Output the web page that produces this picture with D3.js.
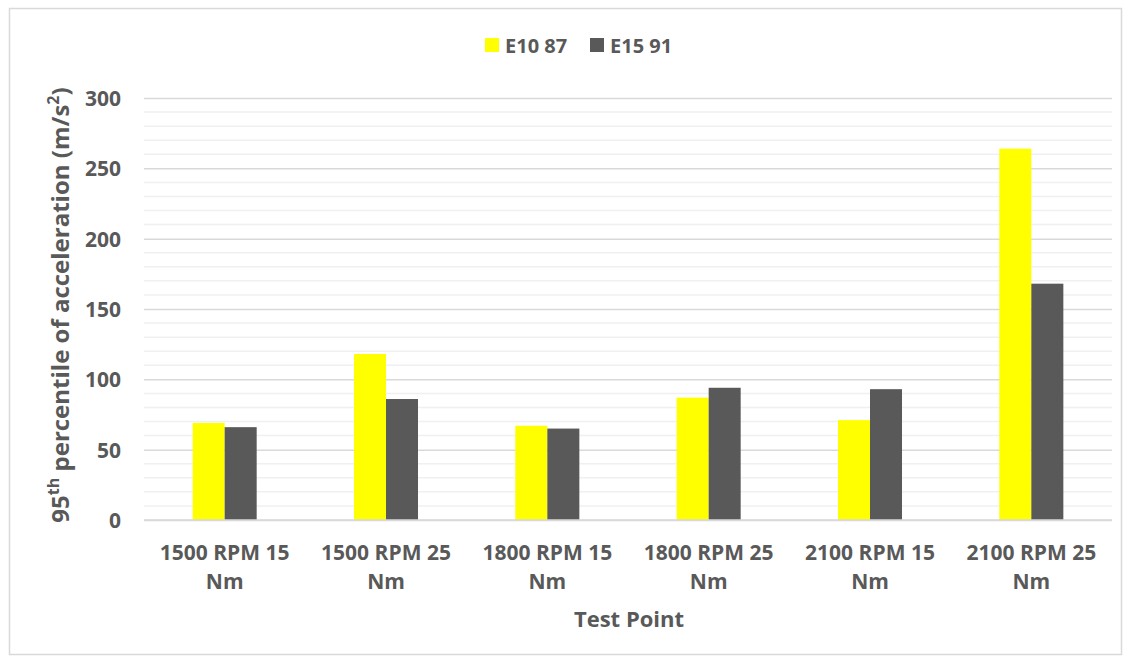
<!DOCTYPE html>
<html>
<head>
<meta charset="utf-8">
<script src="https://cdn.jsdelivr.net/npm/d3@7"></script>
<style>
  html, body { margin: 0; padding: 0; background: #fff; }
  svg { display: block; }
  text { font-family: "Open Sans", Lato, sans-serif; font-weight: bold; fill: #595959; }
</style>
</head>
<body>
<svg id="chart" width="1130" height="662"></svg>
<script>
// Test points (two-line labels) and series values
const categories = [
  ["1500 RPM 15", "Nm"],
  ["1500 RPM 25", "Nm"],
  ["1800 RPM 15", "Nm"],
  ["1800 RPM 25", "Nm"],
  ["2100 RPM 15", "Nm"],
  ["2100 RPM 25", "Nm"]
];
const seriesNames = ["E10 87", "E15 91"];
const e10_87 = [69, 118, 67, 87, 71, 264];
const e15_91 = [66, 86, 65, 94, 93, 168];
const seriesColors = ["#ffff00", "#595959"];
const yTicks = [0, 50, 100, 150, 200, 250, 300];
const yMinorTicks = d3.range(0, 301, 10);

const svg = d3.select("#chart");
const m = { left: 144, right: 1112, top: 98, bottom: 520 };

// outer frame
svg.append("rect")
  .attr("x", 9.5).attr("y", 8.5).attr("width", 1112).attr("height", 646)
  .attr("fill", "#fff").attr("stroke", "#d9d9d9").attr("stroke-width", 1.5);

const x = d3.scaleBand().domain(d3.range(categories.length)).range([m.left, m.right]);
// two bars per group, together ~40% of the category band
const xs = d3.scaleBand().domain([0, 1]).range([0, x.bandwidth()]).paddingInner(0).paddingOuter(1.52);
const y = d3.scaleLinear().domain([0, 300]).range([m.bottom, m.top]);

// minor gridlines
svg.append("g").selectAll("line").data(yMinorTicks.filter(v => v % 50 !== 0)).join("line")
  .attr("x1", m.left).attr("x2", m.right)
  .attr("y1", d => y(d)).attr("y2", d => y(d))
  .attr("stroke", "#f0f0f0").attr("stroke-width", 1.5);

// major gridlines + tick labels via axis
const yAxis = d3.axisLeft(y).tickValues(yTicks).tickSize(-(m.right - m.left)).tickPadding(23);
const gy = svg.append("g").attr("transform", `translate(${m.left},0)`).call(yAxis);
gy.select(".domain").remove();
gy.selectAll(".tick line").attr("stroke", "#d9d9d9").attr("stroke-width", 1.5);
gy.selectAll(".tick text").attr("font-size", 21).attr("fill", "#595959").attr("dy", "0.35em")
  .style("font-family", "'Open Sans', Lato, sans-serif").style("font-weight", "bold");

// bars
const series = [e10_87, e15_91];
series.forEach((vals, si) => {
  svg.append("g").selectAll("rect").data(vals).join("rect")
    .attr("x", (d, i) => x(i) + xs(si))
    .attr("y", d => y(d))
    .attr("width", xs.bandwidth())
    .attr("height", d => y(0) - y(d))
    .attr("fill", seriesColors[si]);
});

// x axis line
svg.append("line").attr("x1", m.left).attr("x2", m.right)
  .attr("y1", y(0)).attr("y2", y(0))
  .attr("stroke", "#d9d9d9").attr("stroke-width", 1.5);

// category labels
const gx = svg.append("g");
categories.forEach((lines, i) => {
  const cx = x(i) + x.bandwidth() / 2;
  const t = gx.append("text")
    .attr("x", cx)
    .attr("y", 560)
    .attr("text-anchor", "middle")
    .attr("font-size", 21);
  lines.forEach((ln, k) => {
    t.append("tspan").attr("x", cx).attr("dy", k === 0 ? 0 : 29).text(ln);
  });
});

// axis titles
svg.append("text").attr("x", (m.left + m.right) / 2 + 1).attr("y", 627)
  .attr("text-anchor", "middle").attr("font-size", 22).text("Test Point");

const yt = svg.append("text")
  .attr("transform", `translate(69,${(m.top + m.bottom) / 2 - 4}) rotate(-90)`)
  .attr("text-anchor", "middle").attr("font-size", 24);
yt.append("tspan").text("95");
yt.append("tspan").attr("dy", -10).attr("font-size", 16).text("th");
yt.append("tspan").attr("dy", 10).text(" percentile of acceleration (m/s");
yt.append("tspan").attr("dy", -10).attr("font-size", 16).text("2");
yt.append("tspan").attr("dy", 10).text(")");

// legend
const legend = svg.append("g");
const legX = [485, 590];
seriesNames.forEach((name, i) => {
  legend.append("rect").attr("x", legX[i]).attr("y", 38).attr("width", 14).attr("height", 14)
    .attr("fill", seriesColors[i]);
  legend.append("text").attr("x", legX[i] + 20).attr("y", 53).attr("font-size", 20).text(name);
});
</script>
</body>
</html>
